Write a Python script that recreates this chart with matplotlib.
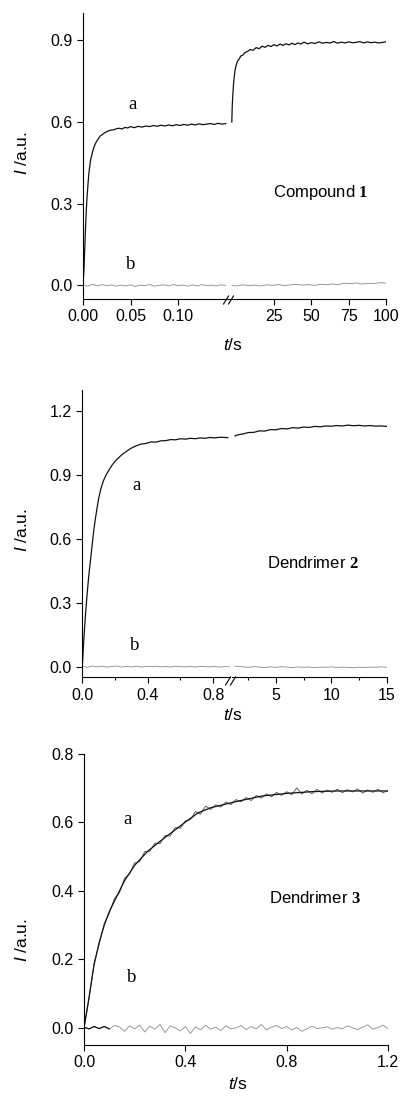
import matplotlib
matplotlib.use('Agg')
import matplotlib.pyplot as plt
from matplotlib.lines import Line2D
from matplotlib.ticker import FormatStrFormatter

plt.rcParams['font.family'] = ['Liberation Sans', 'DejaVu Sans']
plt.rcParams['mathtext.fontset'] = 'custom'
plt.rcParams['mathtext.rm'] = 'Liberation Sans'
plt.rcParams['mathtext.it'] = 'Liberation Sans:italic'
plt.rcParams['mathtext.bf'] = 'Liberation Serif:bold'

# ---------------- data ----------------
# Compound 1, left (fast) segment, t in s
t1a_left = [0, 0.001, 0.002, 0.003, 0.004, 0.005, 0.006, 0.007, 0.008,
            0.010, 0.012, 0.014, 0.016, 0.018, 0.020,
            0.023, 0.026, 0.029, 0.032, 0.035, 0.038, 0.041, 0.044, 0.047, 0.050,
            0.054, 0.058, 0.062, 0.066, 0.070, 0.074, 0.078, 0.082, 0.086, 0.090,
            0.094, 0.098, 0.102, 0.106, 0.110, 0.114, 0.118, 0.122, 0.126, 0.130,
            0.134, 0.138, 0.142, 0.146, 0.150]
a1_left = [0.0, 0.06, 0.15, 0.24, 0.31, 0.36, 0.405, 0.435, 0.46,
           0.49, 0.512, 0.527, 0.538, 0.548, 0.553,
           0.561, 0.566, 0.570, 0.571, 0.575, 0.577, 0.574, 0.580, 0.578, 0.583,
           0.579, 0.584, 0.581, 0.585, 0.583, 0.587, 0.584, 0.588, 0.585, 0.589,
           0.586, 0.590, 0.587, 0.591, 0.588, 0.592, 0.589, 0.593, 0.590, 0.592,
           0.594, 0.591, 0.595, 0.592, 0.594]
t1a_right = [-3.3, -3.0, -2.6, -2.2, -1.7, -1.1, -0.4, 0.5, 1.5, 2.7,
             4.0, 5.5, 7.0, 9.0, 11, 13, 15, 17, 19, 21,
             23, 25, 27, 29, 31, 33, 35, 37, 39, 41,
             43, 45, 47.5, 50, 52.5, 55, 57.5, 60, 62.5, 65,
             67.5, 70, 72.5, 75, 77.5, 80, 82.5, 85, 87.5, 90,
             92.5, 95, 97.5, 100]
a1_right = [0.600, 0.660, 0.700, 0.735, 0.765, 0.790, 0.808, 0.823, 0.830, 0.842,
            0.845, 0.855, 0.858, 0.866, 0.863, 0.873, 0.869, 0.878, 0.874, 0.881,
            0.877, 0.884, 0.879, 0.886, 0.881, 0.887, 0.883, 0.889, 0.884, 0.890,
            0.886, 0.893, 0.887, 0.891, 0.888, 0.894, 0.889, 0.892, 0.890, 0.895,
            0.889, 0.893, 0.890, 0.894, 0.891, 0.892, 0.895, 0.890, 0.894, 0.891,
            0.893, 0.890, 0.892, 0.894]
t1b_left = [0.000, 0.005, 0.010, 0.015, 0.020, 0.025, 0.030, 0.035, 0.040, 0.045,
            0.050, 0.055, 0.060, 0.065, 0.070, 0.075, 0.080, 0.085, 0.090, 0.095,
            0.100, 0.105, 0.110, 0.115, 0.120, 0.125, 0.130, 0.135, 0.140, 0.145,
            0.150]
b1_left = [0.002, -0.003, 0.004, -0.002, 0.003, -0.001, 0.002, -0.003, 0.001, -0.002,
           0.002, -0.004, 0.001, -0.001, 0.003, -0.003, 0.000, 0.002, -0.002, 0.003,
           -0.001, 0.001, -0.003, 0.002, -0.002, 0.003, -0.001, 0.001, -0.002, 0.002,
           0.000]
t1b_right = [-3, 0, 4, 8, 12, 16, 20, 24, 28, 32, 36, 40, 44, 48, 52, 56, 60,
             64, 68, 72, 76, 80, 84, 88, 92, 96, 100]
b1_right = [0.000, -0.002, 0.002, -0.001, 0.001, -0.002, 0.002, 0.000, 0.003, -0.001,
            0.002, 0.004, 0.001, 0.003, 0.000, 0.004, 0.002, 0.005, 0.003, 0.008,
            0.006, 0.009, 0.005, 0.008, 0.007, 0.010, 0.008]

# Dendrimer 2
t2a_left = [0, 0.005, 0.01, 0.015, 0.02, 0.03, 0.04, 0.05, 0.06, 0.07,
            0.08, 0.09, 0.10, 0.115, 0.13, 0.145, 0.16, 0.18, 0.20, 0.22,
            0.24, 0.26, 0.28, 0.30, 0.33, 0.36, 0.39, 0.42, 0.45, 0.48,
            0.51, 0.54, 0.57, 0.60, 0.63, 0.66, 0.69, 0.72, 0.75, 0.78,
            0.81, 0.84, 0.87, 0.89]
a2_left = [0.0, 0.07, 0.135, 0.195, 0.25, 0.345, 0.43, 0.50, 0.57, 0.64,
           0.695, 0.745, 0.79, 0.84, 0.875, 0.90, 0.92, 0.945, 0.965, 0.98,
           0.995, 1.006, 1.017, 1.027, 1.038, 1.046, 1.049, 1.056, 1.055, 1.061,
           1.062, 1.067, 1.066, 1.071, 1.069, 1.073, 1.071, 1.075, 1.073, 1.077,
           1.075, 1.078, 1.077, 1.076]
t2a_right = [1.3, 1.6, 2.0, 2.5, 3.0, 3.5, 4.0, 4.5, 5.0, 5.5, 6.0, 6.5, 7.0, 7.5,
             8.0, 8.5, 9.0, 9.5, 10, 10.5, 11, 11.5, 12, 12.5, 13, 13.5, 14, 14.5, 15]
a2_right = [1.084, 1.090, 1.093, 1.100, 1.101, 1.108, 1.107, 1.114, 1.113, 1.119,
            1.117, 1.123, 1.121, 1.126, 1.124, 1.129, 1.127, 1.131, 1.130, 1.133,
            1.131, 1.135, 1.132, 1.134, 1.131, 1.133, 1.130, 1.131, 1.129]
t2b_left = [0.00, 0.03, 0.06, 0.09, 0.12, 0.15, 0.18, 0.21, 0.24, 0.27,
            0.30, 0.33, 0.36, 0.39, 0.42, 0.45, 0.48, 0.51, 0.54, 0.57,
            0.60, 0.63, 0.66, 0.69, 0.72, 0.75, 0.78, 0.81, 0.84, 0.87, 0.90]
b2_left = [0.002, -0.003, 0.003, -0.001, 0.002, -0.002, 0.001, 0.003, -0.002, 0.001,
           -0.001, 0.002, -0.002, 0.001, 0.000, 0.002, -0.001, 0.001, -0.002, 0.002,
           0.000, -0.001, 0.001, -0.002, 0.001, 0.000, -0.001, 0.001, -0.002, 0.000,
           -0.001]
t2b_right = [1.3, 2.0, 2.5, 3.0, 3.5, 4.0, 4.5, 5.0, 5.5, 6.0, 6.5, 7.0, 7.5, 8.0,
             8.5, 9.0, 9.5, 10, 10.5, 11, 11.5, 12, 12.5, 13, 13.5, 14, 14.5, 15]
b2_right = [0.002, -0.001, -0.003, 0.000, -0.002, -0.004, -0.001, -0.003, 0.000, -0.002,
            -0.004, -0.001, -0.003, -0.002, -0.005, -0.002, -0.003, -0.001, -0.004, -0.002,
            -0.003, -0.005, -0.002, -0.004, -0.002, -0.003, -0.001, -0.003]

# Dendrimer 3 (fit line + noisy trace)
t3_fit = [0, 0.02, 0.04, 0.06, 0.08, 0.10, 0.13, 0.16, 0.20, 0.25, 0.30,
          0.35, 0.40, 0.45, 0.50, 0.60, 0.70, 0.80, 0.90, 1.00, 1.10, 1.20]
a3_fit = [0.0, 0.09, 0.185, 0.25, 0.30, 0.34, 0.385, 0.43, 0.475, 0.515, 0.545,
          0.573, 0.601, 0.628, 0.643, 0.661, 0.677, 0.685, 0.690, 0.692, 0.692, 0.692]
t3 = [0.00, 0.02, 0.04, 0.06, 0.08, 0.10, 0.12, 0.14, 0.16, 0.18,
      0.20, 0.22, 0.24, 0.26, 0.28, 0.30, 0.32, 0.34, 0.36, 0.38,
      0.40, 0.42, 0.44, 0.46, 0.48, 0.50, 0.52, 0.54, 0.56, 0.58,
      0.60, 0.62, 0.64, 0.66, 0.68, 0.70, 0.72, 0.74, 0.76, 0.78,
      0.80, 0.82, 0.84, 0.86, 0.88, 0.90, 0.92, 0.94, 0.96, 0.98,
      1.00, 1.02, 1.04, 1.06, 1.08, 1.10, 1.12, 1.14, 1.16, 1.18, 1.20]
a3 = [0.000, 0.085, 0.190, 0.245, 0.305, 0.335, 0.378, 0.395, 0.437, 0.450,
      0.482, 0.486, 0.515, 0.516, 0.540, 0.538, 0.562, 0.560, 0.585, 0.583,
      0.605, 0.608, 0.632, 0.624, 0.648, 0.638, 0.652, 0.645, 0.660, 0.652,
      0.667, 0.660, 0.673, 0.664, 0.679, 0.671, 0.684, 0.675, 0.688, 0.679,
      0.690, 0.681, 0.701, 0.683, 0.694, 0.684, 0.697, 0.686, 0.695, 0.688,
      0.697, 0.687, 0.696, 0.689, 0.698, 0.686, 0.695, 0.688, 0.697, 0.687, 0.693]
b3 = [0.002, -0.003, 0.004, -0.002, 0.004, -0.003, 0.007, 0.003, -0.010, 0.006,
      -0.003, 0.008, -0.012, 0.005, -0.004, 0.010, -0.014, 0.006, 0.000, -0.009,
      0.004, -0.016, 0.003, -0.006, 0.008, -0.004, 0.002, -0.008, 0.006, -0.003,
      0.000, 0.007, -0.005, 0.004, -0.003, 0.010, -0.006, 0.002, 0.007, -0.002,
      0.004, -0.006, 0.001, -0.010, -0.003, 0.005, -0.002, 0.000, 0.003, -0.004,
      0.001, -0.003, 0.006, 0.000, -0.005, 0.002, 0.009, -0.004, 0.001, 0.008, -0.002]

# ---------------- layout (pixels of a 401x1097 canvas) ----------------
W, H = 401, 1097
fig = plt.figure(figsize=(W / 100, H / 100), dpi=100)

TICK_FS = 11.5
LAB_FS = 12.5
CURVE_A = '#111111'
CURVE_B = '#8a8a8a'


def px_axes(left, right, top, bottom):
    return fig.add_axes([left / W, 1 - bottom / H, (right - left) / W, (bottom - top) / H])


def style(ax, show_left=True):
    for s in ('top', 'right'):
        ax.spines[s].set_visible(False)
    ax.spines['left'].set_visible(show_left)
    ax.tick_params(direction='out', length=4, width=0.8, labelsize=TICK_FS, pad=3.5)
    ax.tick_params(which='minor', direction='out', length=2.5, width=0.8)
    for s in ax.spines.values():
        s.set_linewidth(0.8)
    if not show_left:
        ax.tick_params(axis='y', left=False, labelleft=False)


def break_marks(x, y):
    # two short slanted strokes across the bottom axis (pixel coords)
    for dx in (0, 5):
        x0, x1 = x + dx - 2.5, x + dx + 2.5
        fig.add_artist(Line2D([x0 / W, x1 / W], [1 - (y + 4) / H, 1 - (y - 4) / H],
                              color='black', lw=0.8))


def ylabel_at(x, y):
    fig.text(x / W, 1 - y / H, r'$I$ /a.u.', rotation=90, ha='center', va='center',
             fontsize=LAB_FS)


def xlabel_at(x, y):
    fig.text(x / W, 1 - y / H, r'$t$/s', ha='center', va='center', fontsize=LAB_FS)


# ---- panel 1: Compound 1 ----
ax1l = px_axes(83, 229.5, 13, 299)
ax1r = px_axes(231.5, 386, 13, 299)
for ax in (ax1l, ax1r):
    ax.set_ylim(-0.05, 1.0)
style(ax1l)
style(ax1r, show_left=False)
ax1l.set_xlim(0, 0.154)
ax1r.set_xlim(-3.5, 100)
ax1l.set_yticks([0.0, 0.3, 0.6, 0.9])
ax1l.set_xticks([0.0, 0.05, 0.10])
ax1l.xaxis.set_major_formatter(FormatStrFormatter('%.2f'))
ax1l.yaxis.set_major_formatter(FormatStrFormatter('%.1f'))
ax1r.set_xticks([25, 50, 75, 100])
ax1l.plot(t1b_left, b1_left, color=CURVE_B, lw=0.6)
ax1r.plot(t1b_right, b1_right, color=CURVE_B, lw=0.6)
ax1l.plot(t1a_left, a1_left, color=CURVE_A, lw=0.9)
ax1r.plot(t1a_right, a1_right, color=CURVE_A, lw=0.9)
ax1l.text(0.0526, 0.663, 'a', family='Liberation Serif', fontsize=13.5, ha='center', va='center')
ax1l.text(0.0499, 0.076, 'b', family='Liberation Serif', fontsize=13.5, ha='center', va='center')
ax1r.text(56.5, 0.341, r'Compound $\mathbf{1}$', fontsize=12, ha='center', va='center')
break_marks(226, 300)
ylabel_at(22, 153)
xlabel_at(233, 345)

# ---- panel 2: Dendrimer 2 ----
ax2l = px_axes(82.3, 230, 390, 677.3)
ax2r = px_axes(232, 386.7, 390, 677.3)
for ax in (ax2l, ax2r):
    ax.set_ylim(-0.05, 1.3)
style(ax2l)
style(ax2r, show_left=False)
ax2l.set_xlim(0, 0.903)
ax2r.set_xlim(1.03, 15)
ax2l.set_yticks([0.0, 0.3, 0.6, 0.9, 1.2])
ax2l.yaxis.set_major_formatter(FormatStrFormatter('%.1f'))
ax2l.set_xticks([0.0, 0.4, 0.8])
ax2l.set_xticks([0.2, 0.6], minor=True)
ax2l.xaxis.set_major_formatter(FormatStrFormatter('%.1f'))
ax2r.set_xticks([5, 10, 15])
ax2r.set_xticks([2.5, 7.5, 12.5], minor=True)
ax2l.plot(t2b_left, b2_left, color=CURVE_B, lw=0.6)
ax2r.plot(t2b_right, b2_right, color=CURVE_B, lw=0.6)
ax2l.plot(t2a_left, a2_left, color=CURVE_A, lw=0.9)
ax2r.plot(t2a_right, a2_right, color=CURVE_A, lw=0.9)
ax2l.text(0.333, 0.852, 'a', family='Liberation Serif', fontsize=13.5, ha='center', va='center')
ax2l.text(0.322, 0.10, 'b', family='Liberation Serif', fontsize=13.5, ha='center', va='center')
ax2r.text(8.37, 0.486, r'Dendrimer $\mathbf{2}$', fontsize=12, ha='center', va='center')
break_marks(228, 681)
ylabel_at(22, 530)
xlabel_at(233, 715)

# ---- panel 3: Dendrimer 3 ----
ax3 = px_axes(84, 388, 754, 1045)
style(ax3)
ax3.set_xlim(0, 1.2)
ax3.set_ylim(-0.05, 0.8)
ax3.set_xticks([0.0, 0.4, 0.8, 1.2])
ax3.set_yticks([0.0, 0.2, 0.4, 0.6, 0.8])
ax3.xaxis.set_major_formatter(FormatStrFormatter('%.1f'))
ax3.yaxis.set_major_formatter(FormatStrFormatter('%.1f'))
ax3.plot(t3, b3, color=CURVE_B, lw=0.6)
ax3.plot(t3[:6], b3[:6], color=CURVE_A, lw=0.9)
ax3.plot(t3, a3, color='#4a4a4a', lw=0.6)
ax3.plot(t3_fit, a3_fit, color=CURVE_A, lw=0.9)
ax3.text(0.172, 0.609, 'a', family='Liberation Serif', fontsize=13.5, ha='center', va='center')
ax3.text(0.188, 0.148, 'b', family='Liberation Serif', fontsize=13.5, ha='center', va='center')
ax3.text(0.912, 0.379, r'Dendrimer $\mathbf{3}$', fontsize=12, ha='center', va='center')
ylabel_at(22, 940)
xlabel_at(238, 1084)

fig.savefig('out.png', dpi=100)
